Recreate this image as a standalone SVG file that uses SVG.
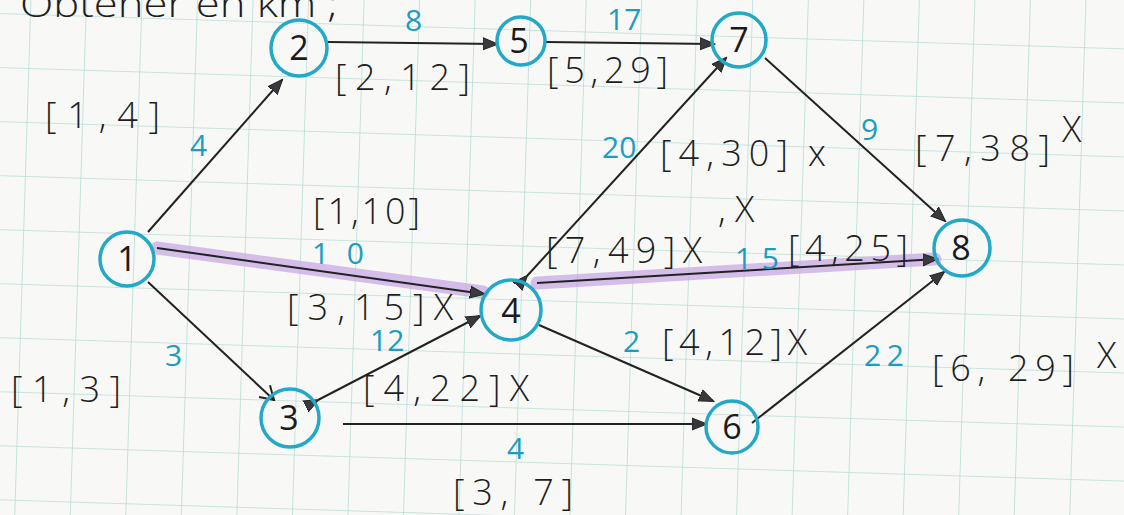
<svg xmlns="http://www.w3.org/2000/svg" width="1124" height="515" viewBox="0 0 1124 515">
<defs>
<pattern id="grid" width="55.5" height="54" patternUnits="userSpaceOnUse" patternTransform="translate(30,14) rotate(1.8)">
<path d="M0 0V54M0 0H55.5" fill="none" stroke="#b9dcd6" stroke-width="1.6"/>
</pattern>
<marker id="ah" markerWidth="16" markerHeight="14" refX="14" refY="7" orient="auto" markerUnits="userSpaceOnUse">
<path d="M0 1L15 7L0 13Z" fill="#3a3a3e" stroke="#222" stroke-width="1"/>
</marker>
<marker id="ao" markerWidth="18" markerHeight="18" refX="15" refY="9" orient="auto" markerUnits="userSpaceOnUse">
<path d="M2 1L15 9L2 17" fill="none" stroke="#222" stroke-width="2"/>
</marker>
</defs>
<style>
.node circle{fill:none;stroke:#23a8c8;stroke-width:3.5}
.node text{font-family:"Open Sans","Liberation Sans",sans-serif;font-size:34px;fill:#1b1b1b;text-anchor:middle}
.e{stroke:#222;stroke-width:2;fill:none}
.hl{stroke:#c9a8e4;stroke-width:13;stroke-opacity:0.75;fill:none;stroke-linecap:round}
.lb{font-family:"Open Sans","Liberation Sans",sans-serif;font-size:36px;fill:#1e1e1e;font-weight:300}
.w{font-family:"Open Sans","Liberation Sans",sans-serif;font-size:30px;fill:#1c9cc0}
</style>
<rect width="1124" height="515" fill="#f8f9f7"/>
<rect width="1124" height="515" fill="url(#grid)"/>
<text class="lb" x="20" y="17" font-size="44" textLength="318" lengthAdjust="spacingAndGlyphs">Obtener en km ;</text>
<g id="connectors">
<path class="hl" d="M157 248L483 292"/>
<path class="hl" d="M537 283L935 259"/>
<path class="e" d="M148 232L282 80" marker-end="url(#ah)"/>
<path class="e" d="M328 42L497 44" marker-end="url(#ah)"/>
<path class="e" d="M546 42L714 44" marker-end="url(#ah)"/>
<path class="e" d="M765 58L945 221" marker-end="url(#ah)"/>
<path class="e" d="M157 248L484 294" marker-end="url(#ah)"/>
<path class="e" d="M148 282L274 400" marker-end="url(#ao)"/>
<path class="e" d="M318 400L480 316" marker-start="url(#ah)" marker-end="url(#ah)"/>
<path class="e" d="M343 424L706 424" marker-end="url(#ah)"/>
<path class="e" d="M527 276L726 58" marker-start="url(#ah)" marker-end="url(#ah)"/>
<path class="e" d="M537 283L937 259" marker-end="url(#ah)"/>
<path class="e" d="M539 325L713 401" marker-end="url(#ah)"/>
<path class="e" d="M752 423L944 272" marker-end="url(#ah)"/>
</g>
<g id="n1" class="node"><circle cx="127" cy="259" r="27"/><text x="127" y="271">1</text></g>
<g id="n2" class="node"><circle cx="299" cy="48" r="28"/><text x="299" y="60">2</text></g>
<g id="n5" class="node"><circle cx="521" cy="41" r="24"/><text x="519" y="53">5</text></g>
<g id="n7" class="node"><circle cx="739" cy="40" r="27"/><text x="739" y="52">7</text></g>
<g id="n8" class="node"><circle cx="962" cy="248" r="28"/><text x="961" y="260">8</text></g>
<g id="n4" class="node"><circle cx="511" cy="310" r="30"/><text x="511" y="323">4</text></g>
<g id="n3" class="node"><circle cx="290" cy="418" r="29"/><text x="289" y="430">3</text></g>
<g id="n6" class="node"><circle cx="732" cy="427" r="26"/><text x="732" y="439">6</text></g>
<g id="labels">
<text class="lb" x="45" y="128" textLength="115" lengthAdjust="spacing">[1,4]</text>
<text class="w" x="190" y="156">4</text>
<text class="w" x="405" y="31">8</text>
<text class="lb" x="335" y="90" font-size="34" textLength="135" lengthAdjust="spacing">[2,12]</text>
<text class="w" x="607" y="30" font-size="28">17</text>
<text class="lb" x="547" y="83" font-size="34" textLength="121" lengthAdjust="spacing">[5,29]</text>
<text class="w" x="602" y="158">20</text>
<text class="lb" x="660" y="166" textLength="128" lengthAdjust="spacing">[4,30]</text>
<text class="lb" x="808" y="166" font-size="28">x</text>
<text class="w" x="861" y="140">9</text>
<text class="lb" x="915" y="161" font-size="38" textLength="135" lengthAdjust="spacing">[7,38]</text>
<text class="lb" x="1062" y="142" font-size="32">X</text>
<text class="lb" x="313" y="224" font-size="34" textLength="107" lengthAdjust="spacing">[1,10]</text>
<text class="w" x="312" y="264" font-size="32" textLength="52" lengthAdjust="spacing">10</text>
<text class="lb" x="546" y="263" textLength="156" lengthAdjust="spacing">[7,49]X</text>
<text class="lb" x="718" y="222" font-size="24">, X</text>
<text class="w" x="735" y="269" textLength="44" lengthAdjust="spacing">15</text>
<text class="lb" x="788" y="261" font-size="34" textLength="120" lengthAdjust="spacing">[4,25]</text>
<text class="lb" x="287" y="320" textLength="166" lengthAdjust="spacing">[3,15]X</text>
<text class="w" x="370" y="351">12</text>
<text class="w" x="165" y="366">3</text>
<text class="lb" x="11" y="402" textLength="110" lengthAdjust="spacing">[1,3]</text>
<text class="lb" x="363" y="401" font-size="34" textLength="166" lengthAdjust="spacing">[4,22]X</text>
<text class="w" x="623" y="352" font-size="28">2</text>
<text class="lb" x="662" y="355" textLength="145" lengthAdjust="spacing">[4,12]X</text>
<text class="w" x="864" y="366" font-size="28" textLength="40" lengthAdjust="spacing">22</text>
<text class="lb" x="932" y="381" font-size="38" textLength="142" lengthAdjust="spacing">[6, 29]</text>
<text class="lb" x="1097" y="368" font-size="30">X</text>
<text class="w" x="507" y="459" font-size="30">4</text>
<text class="lb" x="453" y="505" textLength="120" lengthAdjust="spacing">[3, 7]</text>
</g>
</svg>
